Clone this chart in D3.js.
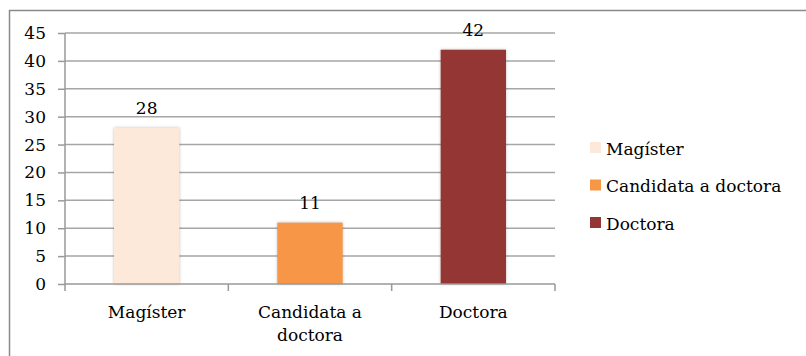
<!DOCTYPE html>
<html><head><meta charset="utf-8">
<script src="https://cdn.jsdelivr.net/npm/d3@7"></script>
<style>
html,body{margin:0;padding:0;background:#fff;}
</style></head>
<body><svg id="chart" width="806" height="356"></svg>
<script>
const categories = ["Magíster", "Candidata a doctora", "Doctora"];
const catLabels = [["Magíster"], ["Candidata a", "doctora"], ["Doctora"]];
const values = [28, 11, 42];
const colors = ["#FDE9D9", "#F79646", "#943634"];
const yTicks = [0, 5, 10, 15, 20, 25, 30, 35, 40, 45];

const FONT = "DejaVu Serif";
const FS = 17;

const svg = d3.select("#chart").attr("font-family", FONT);
const margin = {left: 65, right: 251, top: 33, bottom: 72};
const W = 806, H = 356;

// chart frame: top and left edges
svg.append("path").attr("d", "M9.5,356V10.5H806")
  .attr("fill", "none").attr("stroke", "#8a8a8a").attr("stroke-width", 1.5);

const x = d3.scaleBand().domain(categories).range([margin.left, W - margin.right]).paddingInner(0.6).paddingOuter(0.3);
const y = d3.scaleLinear().domain([0, 45]).range([H - margin.bottom, margin.top]);

// horizontal gridlines
svg.append("g").selectAll("line").data(yTicks.filter(d => d > 0)).join("line")
  .attr("x1", margin.left).attr("x2", W - margin.right)
  .attr("y1", d => y(d)).attr("y2", d => y(d))
  .attr("stroke", "#a6a6a6").attr("stroke-width", 1.5);

// y axis
const yAxis = d3.axisLeft(y).tickValues(yTicks).tickSize(7).tickPadding(12);
const gy = svg.append("g").attr("transform", `translate(${margin.left},0)`).call(yAxis)
  .attr("font-family", FONT).attr("font-size", FS);
gy.select(".domain").attr("stroke", "#999").attr("stroke-width", 1.5).attr("d", `M0,${y(0)+1}V${y(45)}`);
gy.selectAll(".tick line").attr("stroke", "#999").attr("stroke-width", 1.5);
gy.selectAll(".tick text").attr("fill", "#000");

// bars
svg.append("g").selectAll("rect").data(categories).join("rect")
  .attr("x", d => x(d)).attr("width", x.bandwidth())
  .attr("y", (d, i) => y(values[i])).attr("height", (d, i) => y(0) - y(values[i]))
  .attr("fill", (d, i) => colors[i])
  .style("filter", "drop-shadow(0px 0px 1.5px rgba(0,0,0,0.25))");

// x axis baseline with category separators
const xStep = (W - margin.right - margin.left) / categories.length;
const gx = svg.append("g");
gx.append("line").attr("x1", margin.left).attr("x2", W - margin.right)
  .attr("y1", y(0)).attr("y2", y(0)).attr("stroke", "#999").attr("stroke-width", 1.5);
gx.selectAll("line.sep").data(d3.range(categories.length + 1)).join("line").attr("class", "sep")
  .attr("x1", i => margin.left + i * xStep).attr("x2", i => margin.left + i * xStep)
  .attr("y1", y(0)).attr("y2", y(0) + 7).attr("stroke", "#999").attr("stroke-width", 1.5);

// category labels
categories.forEach((c, i) => {
  const cx = x(c) + x.bandwidth() / 2;
  const t = svg.append("text").attr("text-anchor", "middle").attr("font-size", FS)
    .attr("x", cx).attr("y", y(0) + 34);
  catLabels[i].forEach((ln, j) => t.append("tspan").attr("x", cx).attr("dy", j ? 23 : 0).text(ln));
});

// value labels
svg.append("g").selectAll("text").data(categories).join("text")
  .attr("text-anchor", "middle").attr("font-size", FS)
  .attr("x", d => x(d) + x.bandwidth() / 2)
  .attr("y", (d, i) => y(values[i]) - 14)
  .text((d, i) => values[i]);

// legend
const lg = svg.append("g").attr("transform", "translate(590,148)");
categories.forEach((c, i) => {
  const row = lg.append("g").attr("transform", `translate(0,${i * 37.5})`);
  row.append("rect").attr("x", 0).attr("y", -6).attr("width", 11).attr("height", 11).attr("fill", colors[i]);
  row.append("text").attr("x", 16).attr("y", 6.5).attr("font-size", FS).text(c);
});
</script></body></html>
